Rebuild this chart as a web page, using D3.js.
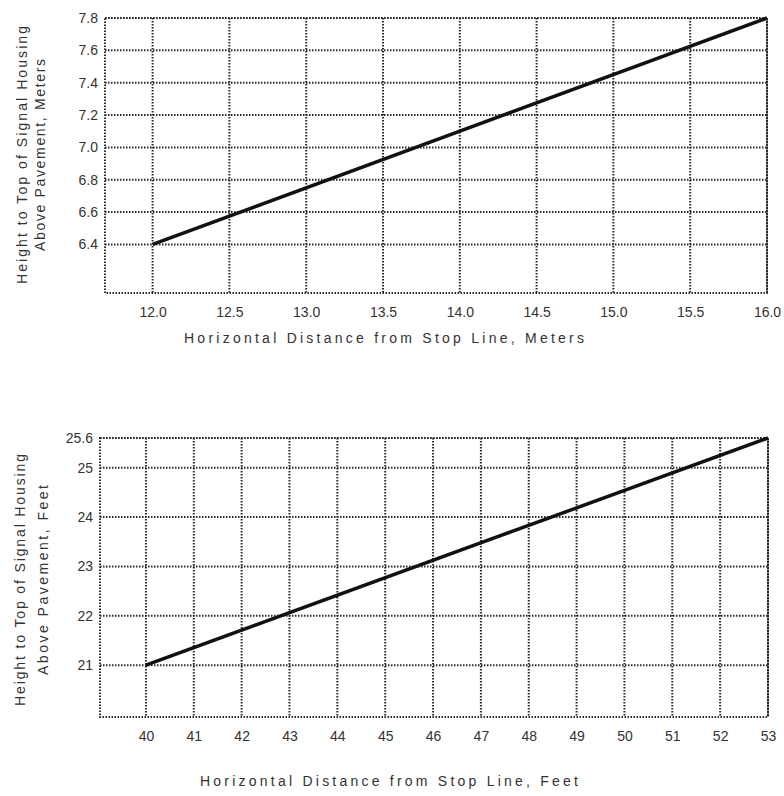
<!DOCTYPE html>
<html>
<head>
<meta charset="utf-8">
<script src="https://cdn.jsdelivr.net/npm/d3@7"></script>
<style>
  body { margin: 0; background: #fff; }
  svg { display: block; }
  .tick text { font-family: "Liberation Sans", Arial, sans-serif; font-size: 14px; fill: #333; }
  .title { font-family: "Liberation Sans", Arial, sans-serif; font-size: 14px; fill: #333; }
  .grid line, .frame { stroke: #2a2a2a; stroke-width: 2; stroke-dasharray: 1.5,1.5; fill: none; }
</style>
</head>
<body>
<script>
// metric chart values
var metersX = [12.0, 12.5, 13.0, 13.5, 14.0, 14.5, 15.0, 15.5, 16.0];
var metersXLabels = ["12.0", "12.5", "13.0", "13.5", "14.0", "14.5", "15.0", "15.5", "16.0"];
var metersY = [6.4, 6.6, 6.8, 7.0, 7.2, 7.4, 7.6, 7.8];
var metersYLabels = ["6.4", "6.6", "6.8", "7.0", "7.2", "7.4", "7.6", "7.8"];
var metersLine = [[12.0, 6.4], [16.0, 7.8]];

// feet chart values
var feetX = [40, 41, 42, 43, 44, 45, 46, 47, 48, 49, 50, 51, 52, 53];
var feetXLabels = ["40", "41", "42", "43", "44", "45", "46", "47", "48", "49", "50", "51", "52", "53"];
var feetY = [21, 22, 23, 24, 25, 25.6];
var feetYLabels = ["21", "22", "23", "24", "25", "25.6"];
var feetLine = [[40, 21], [53, 25.6]];

var svg = d3.select('body').append('svg')
	.attr('width', 784)
	.attr('height', 796);

// draws one chart panel
function drawPanel(opt) {
	var x = d3.scaleLinear().domain(opt.xDomain).range([opt.left, opt.right]);
	var y = d3.scaleLinear().domain(opt.yDomain).range([opt.bottom, opt.top]);
	var g = svg.append('g');

	// gridlines
	g.append('g').attr('class', 'grid')
		.selectAll('line.v').data(opt.xTicks).enter().append('line')
		.attr('x1', function(d) { return x(d); })
		.attr('x2', function(d) { return x(d); })
		.attr('y1', opt.top).attr('y2', opt.bottom);
	g.append('g').attr('class', 'grid')
		.selectAll('line.h').data(opt.yTicks).enter().append('line')
		.attr('y1', function(d) { return y(d); })
		.attr('y2', function(d) { return y(d); })
		.attr('x1', opt.left).attr('x2', opt.right);

	g.append('rect').attr('class', 'frame')
		.attr('x', opt.left).attr('y', opt.top)
		.attr('width', opt.right - opt.left)
		.attr('height', opt.bottom - opt.top);

	// axes (labels only)
	var xAxis = d3.axisBottom(x).tickValues(opt.xTicks)
		.tickFormat(function(d, i) { return opt.xLabels[i]; })
		.tickSize(0).tickPadding(14);
	var xg = g.append('g').attr('transform', 'translate(0,' + opt.bottom + ')').call(xAxis);
	xg.select('.domain').remove();

	var yAxis = d3.axisLeft(y).tickValues(opt.yTicks)
		.tickFormat(function(d, i) { return opt.yLabels[i]; })
		.tickSize(0).tickPadding(7);
	var yg = g.append('g').attr('transform', 'translate(' + opt.left + ',0)').call(yAxis);
	yg.select('.domain').remove();

	// data line
	var line = d3.line()
		.x(function(d) { return x(d[0]); })
		.y(function(d) { return y(d[1]); });
	g.append('path').datum(opt.line)
		.attr('d', line)
		.attr('fill', 'none')
		.attr('stroke', '#111')
		.attr('stroke-width', 3.5);

	// titles
	g.append('text').attr('class', 'title')
		.attr('x', opt.xTitleX).attr('y', opt.xTitleY)
		.attr('text-anchor', 'middle')
		.attr('textLength', opt.xTitleLen).attr('lengthAdjust', 'spacing')
		.text(opt.xTitle);

	opt.yTitle.forEach(function(t, i) {
		var tx = opt.yTitleX[i], ty = opt.yTitleY;
		g.append('text').attr('class', 'title')
			.attr('transform', 'translate(' + tx + ',' + ty + ') rotate(-90)')
			.attr('text-anchor', 'middle')
			.attr('dy', '0.35em')
			.attr('textLength', opt.yTitleLen[i]).attr('lengthAdjust', 'spacing')
			.text(t);
	});
}

drawPanel({
	xDomain: [11.69, 16.0], yDomain: [6.1, 7.8],
	left: 105, right: 767, top: 18, bottom: 293,
	xTicks: metersX, xLabels: metersXLabels,
	yTicks: metersY, yLabels: metersYLabels,
	line: metersLine,
	xTitle: 'Horizontal Distance from Stop Line, Meters',
	xTitleX: 384, xTitleY: 343, xTitleLen: 400,
	yTitle: ['Height to Top of Signal Housing', 'Above Pavement, Meters'],
	yTitleX: [22, 40], yTitleY: 155, yTitleLen: [258, 192]
});

drawPanel({
	xDomain: [39.04, 53], yDomain: [19.95, 25.6],
	left: 100, right: 768, top: 438, bottom: 717,
	xTicks: feetX, xLabels: feetXLabels,
	yTicks: feetY, yLabels: feetYLabels,
	line: feetLine,
	xTitle: 'Horizontal Distance from Stop Line, Feet',
	xTitleX: 389, xTitleY: 786, xTitleLen: 378,
	yTitle: ['Height to Top of Signal Housing', 'Above Pavement, Feet'],
	yTitleX: [20, 43], yTitleY: 580, yTitleLen: [252, 190]
});
</script>
</body>
</html>
